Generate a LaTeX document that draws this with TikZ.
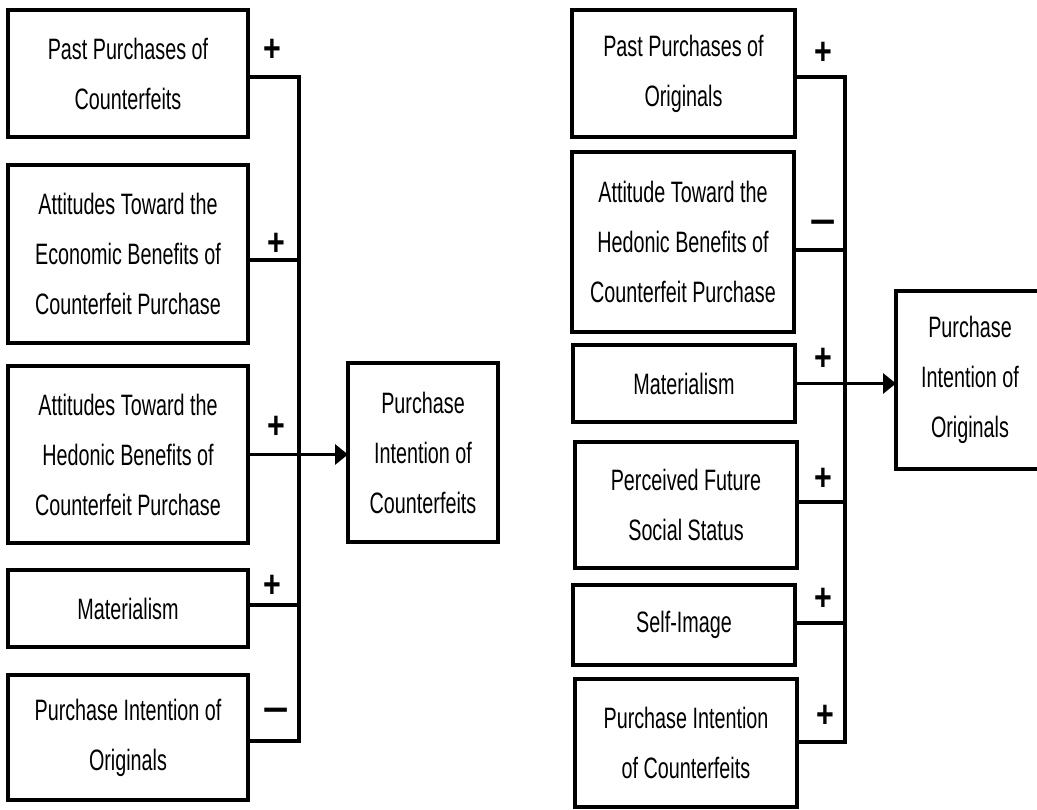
\documentclass[tikz,border=0pt]{standalone}
\usepackage{fontspec}
\setmainfont{Liberation Sans}[FakeStretch=0.67]
\newfontfamily\signfont{Liberation Sans}[FakeStretch=0.8]
\usetikzlibrary{arrows.meta}

\tikzset{
  box/.style={draw, line width=4pt, align=center, inner sep=0pt, outer sep=0pt,
              font=\fontsize{29.5}{50}\selectfont},
  link/.style={line width=3.2pt},
  flow/.style={link, -{Triangle[length=13pt,width=20pt]}},
  plus/.style={anchor=base, inner sep=0pt, font=\signfont\bfseries\fontsize{38}{38}\selectfont},
  minus/.style={anchor=base, inner sep=0pt, font=\signfont\fontsize{58}{58}\selectfont}
}

\begin{document}
\begin{tikzpicture}[x=1pt,y=-1pt]
\useasboundingbox (0,0) rectangle (1037,810);

% ---------- counterfeit model ----------
\node[box, minimum width=240pt, minimum height=127pt] (l1) at (128,73.5)
  {Past Purchases of\\Counterfeits};
\node[box, minimum width=240pt, minimum height=178pt] (l2) at (128,254)
  {Attitudes Toward the\\Economic Benefits of\\Counterfeit Purchase};
\node[box, minimum width=240pt, minimum height=177pt] (l3) at (128,454.5)
  {Attitudes Toward the\\Hedonic Benefits of\\Counterfeit Purchase};
\node[box, minimum width=240pt, minimum height=77pt] (l4) at (128,608.5)
  {Materialism};
\node[box, minimum width=240pt, minimum height=125pt] (l5) at (128,737.5)
  {Purchase Intention of\\Originals};
\node[box, minimum width=150pt, minimum height=179pt] (tc) at (423,452.5)
  {Purchase\\Intention of\\Counterfeits};

\coordinate (lbus) at (299,0);
\coordinate (l1o) at ([yshift=-3.5pt]l1.east);
\coordinate (l2o) at ([yshift=-6pt]l2.east);
\coordinate (l4o) at ([yshift=3.5pt]l4.east);
\coordinate (l5o) at ([yshift=-3.5pt]l5.east);

\draw[link] (l1o) -- (l1o -| lbus) -- (l5o -| lbus) -- (l5o);
\draw[link] (l2o) -- (l2o -| lbus);
\draw[link] (l4o) -- (l4o -| lbus);
\draw[flow] (l3.east) -- (l3.east -| tc.west);

\node[plus]  (ls1) at (272,61.9)  {+};
\node[plus]  (ls2) at (276,255.4) {+};
\node[plus]  (ls3) at (276,438.4) {+};
\node[plus]  (ls4) at (272,597.4) {+};
\node[minus] (ls5) at (276.5,729.5) {−};

% ---------- originals model ----------
\node[box, minimum width=223pt, minimum height=127pt] (r1) at (683.5,73.5)
  {Past Purchases of\\Originals};
\node[box, minimum width=222pt, minimum height=180pt] (r2) at (683,242)
  {Attitude Toward the\\Hedonic Benefits of\\Counterfeit Purchase};
\node[box, minimum width=222pt, minimum height=77pt] (r3) at (684,383.5)
  {Materialism};
\node[box, minimum width=222pt, minimum height=126pt] (r4) at (686,505)
  {Perceived Future\\Social Status};
\node[box, minimum width=222pt, minimum height=80pt] (r5) at (684,625)
  {Self-Image};
\node[box, minimum width=222pt, minimum height=128pt] (r6) at (686,743)
  {Purchase Intention\\of Counterfeits};
\node[box, minimum width=148pt, minimum height=178pt] (to) at (970,380)
  {Purchase\\Intention of\\Originals};

\coordinate (rbus) at (845,0);
\coordinate (r1o) at ([yshift=-3.5pt]r1.east);
\coordinate (r2o) at ([yshift=-8pt]r2.east);
\coordinate (r4o) at ([yshift=3pt]r4.east);
\coordinate (r5o) at ([yshift=2pt]r5.east);
\coordinate (r6o) at ([yshift=1pt]r6.east);

\draw[link] (r1o) -- (r1o -| rbus) -- (r6o -| rbus) -- (r6o);
\draw[link] (r2o) -- (r2o -| rbus);
\draw[link] (r4o) -- (r4o -| rbus);
\draw[link] (r5o) -- (r5o -| rbus);
\draw[flow] (r3.east) -- (r3.east -| to.west);

\node[plus]  (rs1) at (823,64.9)  {+};
\node[minus] (rs2) at (823.5,241.5) {−};
\node[plus]  (rs3) at (823,370.9) {+};
\node[plus]  (rs4) at (823,490.4) {+};
\node[plus]  (rs5) at (823,610.4) {+};
\node[plus]  (rs6) at (825,727.4) {+};
\end{tikzpicture}
\end{document}
